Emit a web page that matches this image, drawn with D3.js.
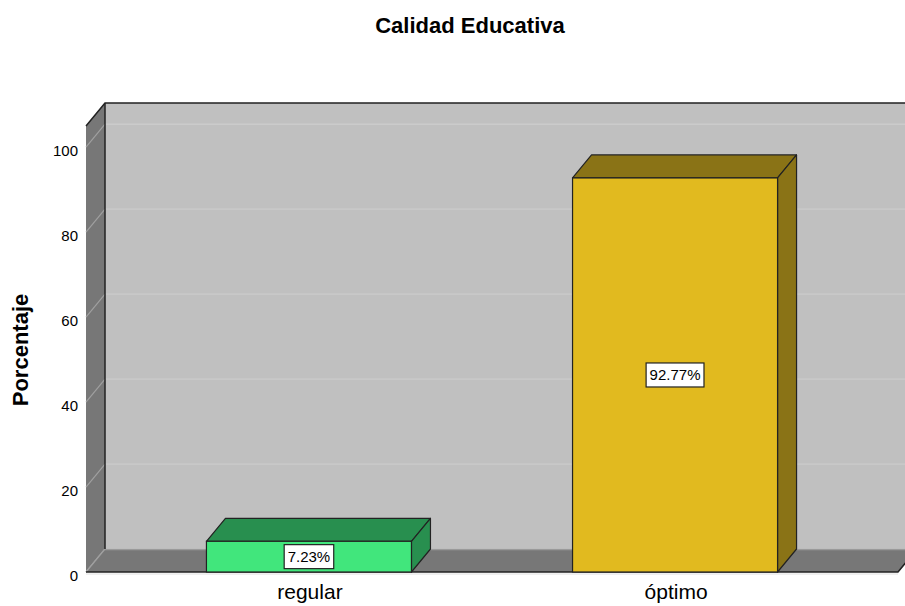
<!DOCTYPE html>
<html><head><meta charset="utf-8">
<script src="https://cdn.jsdelivr.net/npm/d3@7"></script>
<style>body{margin:0;background:#fff}svg{display:block}text{font-family:"Liberation Sans",Arial,sans-serif;fill:#000}</style>
</head><body><svg id="c" width="905" height="606"></svg>
<script>
const categories = ["regular", "óptimo"];
const percentages = [7.23, 92.77];
const valueLabels = ["7.23%", "92.77%"];
const yTicks = [0, 20, 40, 60, 80, 100];
const barColors = ["#41e67c", "#e1ba1f"];
const barDarkColors = ["#288f4f", "#8a7316"];
const title = "Calidad Educativa";
const yTitle = "Porcentaje";

const svg = d3.select("#c");
const dx = 19, dy = -23;
const x0 = 86, x1 = 898;
const y = d3.scaleLinear().domain([0, 105]).range([572, 126]);
const x = d3.scaleBand().domain(categories).range([x0, x1]).paddingInner(0.44).paddingOuter(0.329);
const yTop = y(105), yBot = y(0);
const line = d3.line();

// back wall
svg.append("rect").attr("x", x0 + dx).attr("y", yTop + dy).attr("width", x1 - x0 + 40).attr("height", yBot - yTop)
  .attr("fill", "#c0c0c0");
// back gridlines
svg.selectAll(".bg").data(yTicks).join("line")
  .attr("x1", x0 + dx).attr("x2", 905).attr("y1", d => y(d) + dy).attr("y2", d => y(d) + dy)
  .attr("stroke", "#cbcbcb").attr("stroke-width", 1.3);
// left wall
svg.append("path").attr("d", line([[x0, yBot], [x0, yTop], [x0 + dx, yTop + dy], [x0 + dx, yBot + dy]]) + "Z")
  .attr("fill", "#777777");
svg.selectAll(".lg").data(yTicks).join("line")
  .attr("x1", x0).attr("x2", x0 + dx).attr("y1", d => y(d)).attr("y2", d => y(d) + dy)
  .attr("stroke", "#a0a0a0").attr("stroke-width", 1.2);
// floor
svg.append("path").attr("d", line([[x0, yBot], [x1, yBot], [x1 + dx, yBot + dy], [x0 + dx, yBot + dy]]) + "Z")
  .attr("fill", "#777777");
svg.append("line").attr("x1", x0 + dx).attr("x2", 905).attr("y1", yBot + dy + 0.5).attr("y2", yBot + dy + 0.5)
  .attr("stroke", "#9a9a9a").attr("stroke-width", 1.5);
svg.append("line").attr("x1", x0).attr("x2", x0 + dx).attr("y1", yBot).attr("y2", yBot + dy)
  .attr("stroke", "#a0a0a0").attr("stroke-width", 1.2);
// edges
svg.append("path").attr("d", line([[x0, yTop], [x0 + dx, yTop + dy], [905, yTop + dy]]))
  .attr("fill", "none").attr("stroke", "#222").attr("stroke-width", 1.5);
svg.append("line").attr("x1", x0 + dx).attr("x2", x0 + dx).attr("y1", yTop + dy).attr("y2", yBot + dy)
  .attr("stroke", "#222").attr("stroke-width", 1.5);
svg.append("path").attr("d", line([[x0, yBot], [x1, yBot], [x1 + dx, yBot + dy]]))
  .attr("fill", "none").attr("stroke", "#222").attr("stroke-width", 1.5);
svg.append("line").attr("x1", x0).attr("x2", x1).attr("y1", yBot + 2).attr("y2", yBot + 2)
  .attr("stroke", "#e0e0e0").attr("stroke-width", 1);

// bars
const bw = x.bandwidth();
const bars = svg.selectAll(".bar").data(categories).join("g");
bars.each(function (c, i) {
  const g = d3.select(this);
  const xb = x(c), yv = y(percentages[i]);
  g.append("path").attr("d", line([[xb, yv], [xb + dx, yv + dy], [xb + bw + dx, yv + dy], [xb + bw, yv]]) + "Z")
    .attr("fill", barDarkColors[i]).attr("stroke", "#222").attr("stroke-width", 1.2).attr("stroke-linejoin", "round");
  g.append("path").attr("d", line([[xb + bw, yv], [xb + bw + dx, yv + dy], [xb + bw + dx, yBot + dy], [xb + bw, yBot]]) + "Z")
    .attr("fill", barDarkColors[i]).attr("stroke", "#222").attr("stroke-width", 1.2).attr("stroke-linejoin", "round");
  g.append("rect").attr("x", xb).attr("y", yv).attr("width", bw).attr("height", yBot - yv)
    .attr("fill", barColors[i]).attr("stroke", "#222").attr("stroke-width", 1.2);
  const cx = xb + bw / 2, cy = (yv + yBot) / 2;
  const t = g.append("text").attr("x", cx).attr("y", cy).attr("text-anchor", "middle")
    .attr("dominant-baseline", "central").style("font-size", "15px").text(valueLabels[i]);
  const w = t.node().getComputedTextLength() + 7;
  g.insert("rect", "text").attr("x", cx - w / 2).attr("y", cy - 12).attr("width", w).attr("height", 24)
    .attr("fill", "#fff").attr("stroke", "#222").attr("stroke-width", 1.2);
});

// y tick labels
svg.selectAll(".yt").data(yTicks).join("text")
  .attr("x", 78).attr("y", d => y(d) + 3.5).attr("text-anchor", "end").attr("dominant-baseline", "central")
  .style("font-size", "15px").text(d => d);
// x labels
svg.selectAll(".xl").data(categories).join("text")
  .attr("x", d => x(d) + bw / 2 + 1).attr("y", 599).attr("text-anchor", "middle")
  .style("font-size", "21px").text(d => d);
// titles
svg.append("text").attr("x", 470).attr("y", 33).attr("text-anchor", "middle")
  .style("font-size", "22px").style("font-weight", "bold").text(title);
svg.append("text").attr("transform", "translate(28,350) rotate(-90)").attr("text-anchor", "middle")
  .style("font-size", "22px").style("font-weight", "bold").text(yTitle);
</script></body></html>
